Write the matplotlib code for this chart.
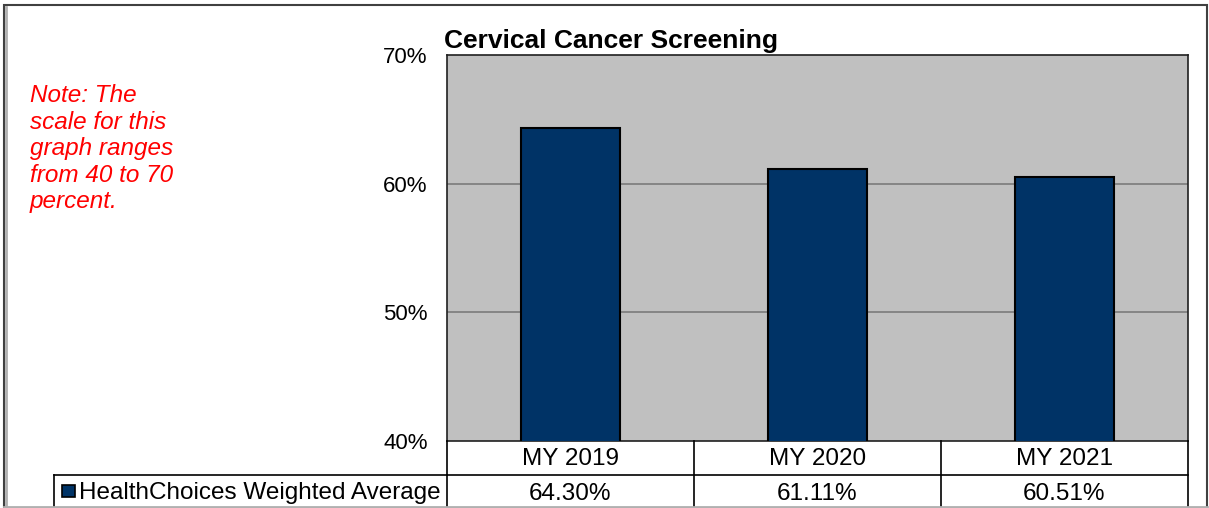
import matplotlib.pyplot as plt
from matplotlib.lines import Line2D
from matplotlib.patches import Rectangle
from matplotlib.transforms import blended_transform_factory

plt.rcParams['font.family'] = ['Liberation Sans', 'DejaVu Sans']

# data
categories = ["MY 2019", "MY 2020", "MY 2021"]
values = [64.30, 61.11, 60.51]
series_name = "HealthChoices Weighted Average"
title = "Cervical Cancer Screening"
note = "Note: The\nscale for this\ngraph ranges\nfrom 40 to 70\npercent."

W, H = 1209, 508
bar_color = "#003366"


def fx(x):
    return x / W


def fy(y):
    return 1 - y / H


fig = plt.figure(figsize=(W / 100, H / 100), dpi=100)
fig.patch.set_facecolor("white")

# plot area
ax = fig.add_axes([fx(447), fy(441), fx(1188) - fx(447), fy(55) - fy(441)])
ax.set_facecolor("#C0C0C0")
x = range(len(categories))
ax.bar(x, values, width=0.4, color=bar_color, edgecolor="black", linewidth=1.5, zorder=3)
ax.set_xlim(-0.5, len(categories) - 0.5)
ax.set_ylim(40, 70)
ax.set_yticks([40, 50, 60, 70])
ax.set_yticklabels([f"{t}%" for t in [40, 50, 60, 70]], fontsize=16)
ax.tick_params(axis="y", length=0, pad=14)
ax.set_xticks([])
for t in [50, 60]:
    ax.axhline(t, color="#808080", linewidth=1.3, zorder=1)
for s in ax.spines.values():
    s.set_color("#202020")
    s.set_linewidth(1.2)

fig.text(fx(444), fy(41), title, fontsize=19, fontweight="bold", va="center", ha="left")

fig.text(fx(30), fy(84), note, fontsize=17.5, color="red", style="italic",
         va="top", ha="left", linespacing=1.2)

# data table under the plot
tr = blended_transform_factory(ax.transData, fig.transFigure)
row_top, row_mid, row_bot = fy(441), fy(475), fy(510)
n = len(categories)
line_kw = dict(color="black", linewidth=1.2)
fig.add_artist(Line2D([fx(54), fx(447)], [row_mid, row_mid], transform=fig.transFigure, **line_kw))
fig.add_artist(Line2D([-0.5, n - 0.5], [row_mid, row_mid], transform=tr, **line_kw))
fig.add_artist(Line2D([fx(54), fx(54)], [row_mid, row_bot], transform=fig.transFigure, **line_kw))
for i in range(n + 1):
    fig.add_artist(Line2D([i - 0.5, i - 0.5], [row_top, row_bot], transform=tr, **line_kw))
for i, (c, v) in enumerate(zip(categories, values)):
    fig.text(i, fy(459), c, transform=tr, fontsize=17.5, ha="center", va="center")
    fig.text(i, fy(494), f"{v:.2f}%", transform=tr, fontsize=17.5, ha="center", va="center")

fig.add_artist(Rectangle((fx(62), fy(497)), fx(13), fy(485) - fy(497), transform=fig.transFigure,
                         facecolor=bar_color, edgecolor="black", linewidth=1.2))
fig.text(fx(79), fy(493), series_name, fontsize=17.5, ha="left", va="center")

# outer frame with shadow
fig.add_artist(Rectangle((fx(4), fy(508)), fx(1207) - fx(4), fy(5) - fy(508), transform=fig.transFigure,
                         facecolor="none", edgecolor="#404040", linewidth=1.5))
fig.add_artist(Line2D([fx(6), fx(6)], [fy(7), fy(506)], transform=fig.transFigure,
                      color="#B0B0B0", linewidth=2))
fig.add_artist(Line2D([fx(4), fx(1207)], [fy(506.5), fy(506.5)], transform=fig.transFigure,
                      color="#B0B0B0", linewidth=2))

fig.savefig("out.png", dpi=100)
